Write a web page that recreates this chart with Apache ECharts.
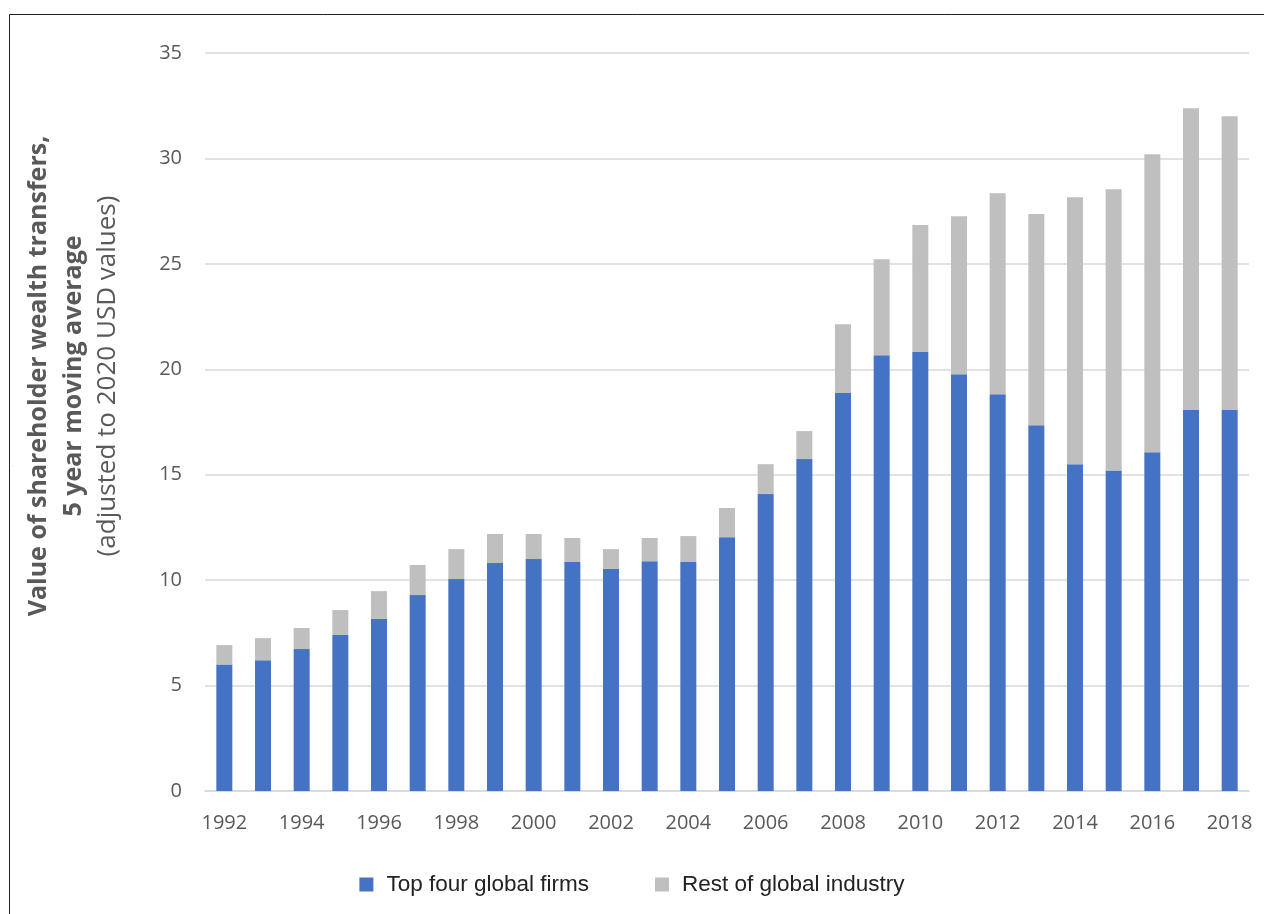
<!DOCTYPE html>
<html>
<head>
<meta charset="utf-8">
<script src="https://cdn.jsdelivr.net/npm/echarts@6/dist/echarts.min.js"></script>
<style>
html,body{margin:0;padding:0;background:#fff;}
#chart{width:1264px;height:914px;}
</style>
</head>
<body>
<div id="chart"></div>
<script>
var years = ['1992','1993','1994','1995','1996','1997','1998','1999','2000','2001','2002','2003','2004','2005','2006','2007','2008','2009','2010','2011','2012','2013','2014','2015','2016','2017','2018'];
var topFour = [6.0,6.2,6.73,7.4,8.16,9.29,10.05,10.81,11.0,10.86,10.53,10.9,10.86,12.04,14.08,15.74,18.87,20.67,20.82,19.77,18.82,17.35,15.5,15.2,16.07,18.07,18.07];
var restOfIndustry = [0.92,1.05,1.0,1.18,1.32,1.43,1.42,1.38,1.19,1.14,0.94,1.1,1.23,1.38,1.42,1.33,3.27,4.55,6.02,7.49,9.53,10.01,12.66,13.34,14.13,14.31,13.93];
var yTicks = [0,5,10,15,20,25,30,35];

var chart = echarts.init(document.getElementById('chart'));
chart.setOption({
  animation: false,
  grid: {left: 205, right: 15, top: 53, bottom: 123, containLabel: false},
  legend: {
    top: 868,
    left: 'center',
    itemWidth: 14,
    itemHeight: 14,
    itemGap: 66,
    icon: 'rect',
    textStyle: {fontFamily: 'Liberation Sans', fontSize: 22.5, color: '#222', padding: [0, 0, 0, 8]},
    data: ['Top four global firms', 'Rest of global industry']
  },
  graphic: [
    {type: 'rect', shape: {x: 9.5, y: 14.5, width: 1400, height: 1000}, style: {fill: 'none', stroke: '#222', lineWidth: 1}, silent: true},
    {type: 'text', x: 39, y: 376, rotation: Math.PI/2, style: {text: 'Value of shareholder wealth transfers,', font: 'bold 25px "Open Sans"', fill: '#595959', align: 'center', verticalAlign: 'middle'}},
    {type: 'text', x: 74, y: 376, rotation: Math.PI/2, style: {text: '5 year moving average', font: 'bold 25px "Open Sans"', fill: '#595959', align: 'center', verticalAlign: 'middle'}},
    {type: 'text', x: 108, y: 376, rotation: Math.PI/2, style: {text: '(adjusted to 2020 USD values)', font: '26px "Open Sans"', fill: '#595959', align: 'center', verticalAlign: 'middle'}}
  ],
  xAxis: {
    type: 'category',
    data: years,
    axisLine: {show: true, lineStyle: {color: '#d9d9d9', width: 1.5}},
    axisTick: {show: false},
    axisLabel: {interval: 1, margin: 22, fontFamily: 'Open Sans', fontSize: 20, color: '#595959'}
  },
  yAxis: {
    type: 'value',
    min: 0, max: 35, interval: 5,
    axisLine: {show: false},
    axisTick: {show: false},
    splitLine: {lineStyle: {color: '#d9d9d9', width: 1.5}},
    axisLabel: {margin: 23, fontFamily: 'Open Sans', fontSize: 20, color: '#595959',
      formatter: function(v){ return yTicks.indexOf(v) >= 0 ? String(v) : ''; }}
  },
  series: [
    {name: 'Top four global firms', type: 'bar', stack: 'total', data: topFour, barWidth: 16, itemStyle: {color: '#4472C4'}},
    {name: 'Rest of global industry', type: 'bar', stack: 'total', data: restOfIndustry, barWidth: 16, itemStyle: {color: '#BFBFBF'}}
  ]
});
</script>
</body>
</html>
